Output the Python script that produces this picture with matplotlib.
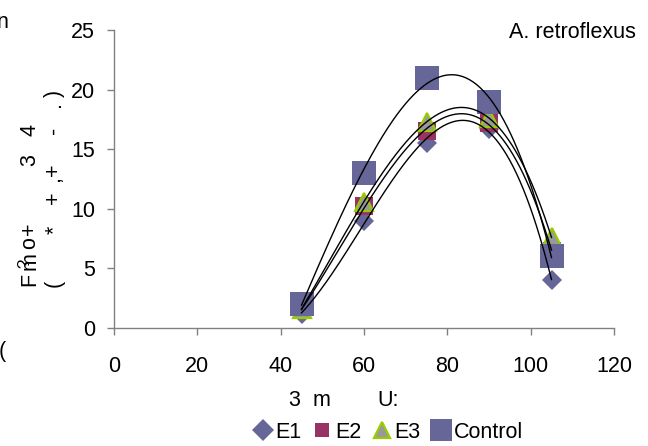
import numpy as np
import matplotlib
matplotlib.use("Agg")
import matplotlib.pyplot as plt
from matplotlib.lines import Line2D

plt.rcParams['font.family'] = ['Liberation Sans', 'DejaVu Sans']

x_vals = [45, 60, 75, 90, 105]
e1 = [1.2, 9.0, 15.5, 16.7, 4.0]
e2 = [1.5, 10.2, 16.5, 17.2, 6.5]
e3 = [1.6, 10.6, 17.3, 17.6, 7.6]
control = [2.0, 13.0, 21.0, 19.0, 6.0]
series_names = ["E1", "E2", "E3", "Control"]
x_ticks = [0, 20, 40, 60, 80, 100, 120]
y_ticks = [0, 5, 10, 15, 20, 25]
title_text = "A. retroflexus"

W, H = 648, 446
FS = 15.5
fig = plt.figure(figsize=(W / 100, H / 100), dpi=100)
ax = fig.add_axes([114 / W, 1 - 328 / H, 500 / W, 298 / H])

slate = "#666699"
plum = "#993366"
styles = [
    dict(marker="D", ms=10, mfc=slate, mec=slate, mew=0),
    dict(marker="s", ms=13.5, mfc=plum, mec=plum, mew=0),
    dict(marker="^", ms=13.5, mfc="#999999", mec="#99CC00", mew=1.6),
    dict(marker="s", ms=17, mfc=slate, mec=slate, mew=0),
]
data = [e1, e2, e3, control]
for d, st, name in zip(data, styles, series_names):
    ax.plot(x_vals, d, ls="none", label=name, zorder=3, **st)

xs = np.linspace(min(x_vals), max(x_vals), 300)
for d in data:
    coef = np.polyfit(x_vals, d, 3)
    ax.plot(xs, np.polyval(coef, xs), color="black", lw=1.0, zorder=4)

ax.set_xlim(0, 120)
ax.set_ylim(0, 25)
ax.set_xticks(x_ticks)
ax.set_yticks(y_ticks)
for s in ["top", "right"]:
    ax.spines[s].set_visible(False)
for s in ["left", "bottom"]:
    ax.spines[s].set_color("#808080")
    ax.spines[s].set_linewidth(1.0)
ax.tick_params(axis="both", direction="out", length=5, width=1.0, color="#808080",
               labelsize=FS, labelcolor="black")
ax.tick_params(axis="x", pad=15)
ax.tick_params(axis="y", pad=8.5)

fig.text(636 / W, 1 - 32 / H, title_text, ha="right", va="center", fontsize=FS)

# garbled axis titles (as in the reference)
def ftxt(px, py, s, size=FS, **kw):
    fig.text(px / W, 1 - py / H, s, ha="center", va="center", fontsize=size, **kw)

for ch, py in [("F", 279), ("m", 261), ("o", 243), ("+", 229), ("3", 160), ("4", 130)]:
    ftxt(30, py, ch, rotation=90)
ftxt(25, 263, "?", size=12, rotation=90)
for ch, py in [("(", 283), ("*", 230), ("+", 198), ("+", 170), (",", 179), ("-", 130), (".", 104), (")", 93)]:
    ftxt(54, py, ch, rotation=90)

ftxt(294, 401, "3")
ftxt(322, 401, "m")
ftxt(388, 401, "U:")

ftxt(2, 22, "n")
ftxt(2, 352, "(")

leg_styles = [
    dict(marker="D", ms=11, mfc=slate, mec=slate, mew=0),
    dict(marker="s", ms=10.5, mfc=plum, mec=plum, mew=0),
    dict(marker="^", ms=12, mfc="#999999", mec="#99CC00", mew=1.6),
    dict(marker="s", ms=16, mfc=slate, mec=slate, mew=0),
]
handles = [Line2D([], [], ls="none", **st) for st in leg_styles]
fig.legend(handles, series_names, loc="center", bbox_to_anchor=(387 / W, 1 - 432 / H),
           ncol=4, frameon=False, fontsize=FS, handletextpad=0.05, columnspacing=0.4,
           handlelength=1.1, borderpad=0)

fig.savefig("out.png", dpi=100)
